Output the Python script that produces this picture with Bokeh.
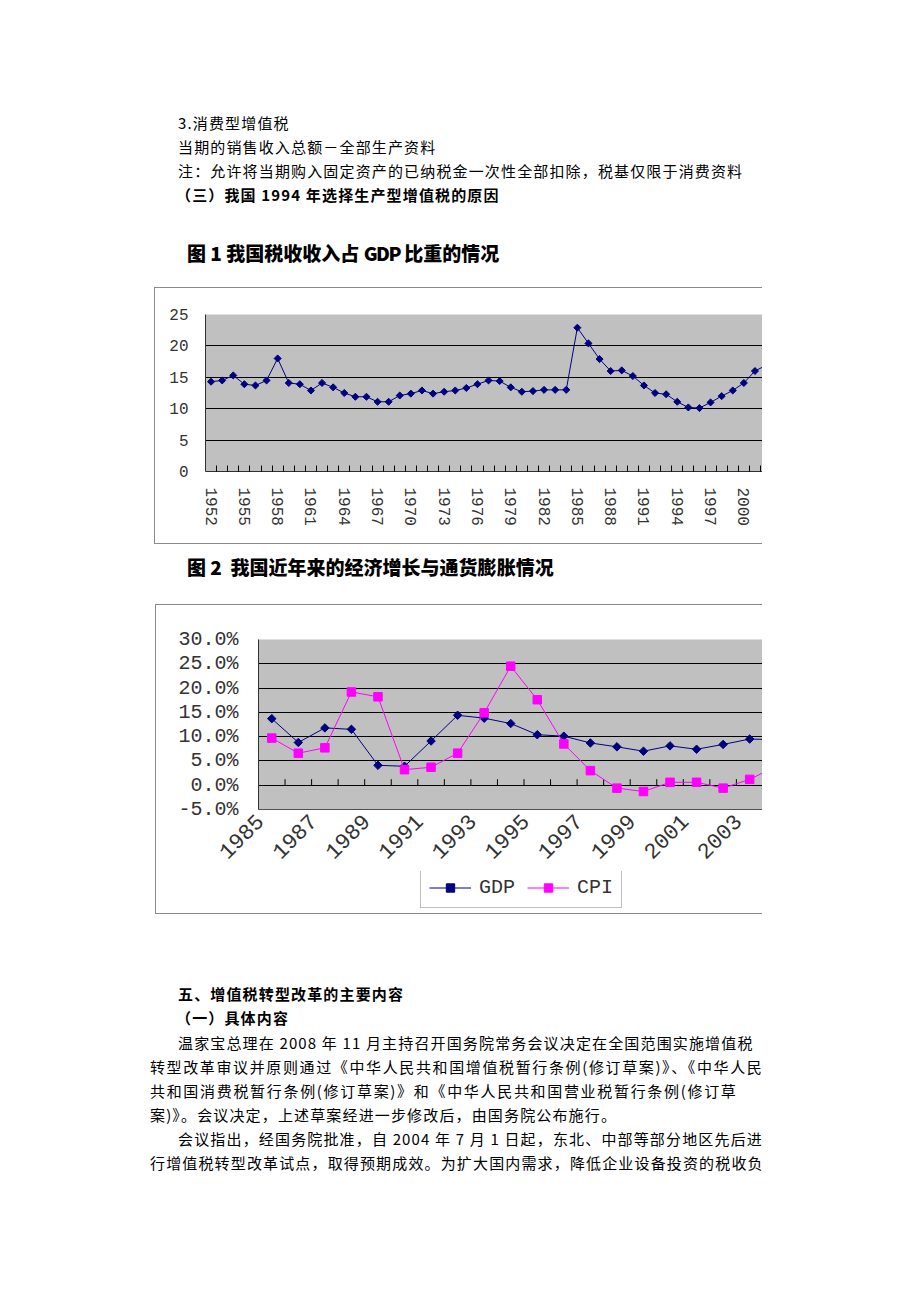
import numpy as np
from bokeh.plotting import figure
from bokeh.layouts import column, row
from bokeh.models import (Div, Spacer, FixedTicker, CustomJSTickFormatter,
                          PrintfTickFormatter, Legend, LegendItem, Range1d)
from bokeh.embed import file_html
from bokeh.resources import INLINE

# ---------------- data ----------------
# Figure 1: tax revenue as % of GDP
years1 = [str(y) for y in range(1952, 2003)]
tax_ratio = [14.3, 14.5, 15.3, 13.9, 13.7, 14.5, 18.0, 14.1, 13.9, 12.9,
             14.1, 13.4, 12.5, 11.9, 11.9, 11.1, 11.1, 12.1, 12.4, 12.9,
             12.4, 12.7, 12.9, 13.3, 13.9, 14.5, 14.4, 13.4, 12.7, 12.8,
             13.0, 13.0, 13.0, 22.9, 20.4, 17.9, 16.0, 16.1, 15.2, 13.7,
             12.5, 12.3, 11.1, 10.2, 10.1, 11.0, 12.0, 12.9, 14.1, 16.0,
             16.9]
y_ticks1 = [0, 5, 10, 15, 20, 25]

# Figure 2: GDP growth and CPI
years2 = [str(y) for y in range(1985, 2005)]
gdp = [13.7, 8.8, 11.8, 11.5, 4.1, 3.9, 9.1, 14.4, 13.8, 12.7,
       10.4, 10.1, 8.7, 7.9, 7.0, 8.1, 7.4, 8.4, 9.5, 9.4]
cpi = [9.7, 6.6, 7.7, 19.2, 18.2, 3.2, 3.7, 6.6, 14.9, 24.5,
       17.6, 8.5, 3.0, -0.6, -1.3, 0.6, 0.6, -0.6, 1.2, 3.9]
y_ticks2 = [-5, 0, 5, 10, 15, 20, 25, 30]
series_names = ["GDP", "CPI"]

NAVY = "#000080"
MAGENTA = "#ff00ff"
PLOT_BG = "#c0c0c0"
TICK_FONT = "Liberation Mono"
LABEL_COLOR = "#333333"
BOX_COLOR = "#8a8a8a"
CJK = "'Noto Sans CJK SC', 'Noto Sans CJK JP', sans-serif"

# ---------------- text helpers ----------------
def tline(x, yc, text, fs=15, bold=False, weight=None, right=None, ls=1.15, lh=None):
    if lh is None:
        lh = 20 if fs <= 15 else 24
    content = 1.448 * fs
    half = (lh - content) / 2.0
    center = half + 1.16 * fs - 0.38 * fs
    top = yc - center
    w = weight if weight else ("700" if bold else "400")
    style = (f"position:absolute;left:{x}px;top:{top:.1f}px;font-family:{CJK};"
             f"font-size:{fs}px;line-height:{lh}px;font-weight:{w};color:#000;"
             f"white-space:nowrap;letter-spacing:{ls}px;")
    if right is not None:
        style += f"width:{right - x}px;text-align:justify;text-align-last:justify;"
    return f'<div style="{style}">{text}</div>'


def text_block(lines, height, offset):
    inner = "".join(tline(x, yc - offset, t, **kw) for (x, yc, t, kw) in lines)
    html = f'<div style="position:relative;width:920px;height:{height}px;overflow:hidden;">{inner}</div>'
    return Div(text=html, width=920, height=height, margin=0)


top_lines = [
    (178, 124, "3.消费型增值税", {}),
    (178, 148, "当期的销售收入总额－全部生产资料", {}),
    (178, 172, "注：允许将当期购入固定资产的已纳税金一次性全部扣除，税基仅限于消费资料", {}),
    (176, 196, "（三）我国 1994 年选择生产型增值税的原因", {"bold": True}),
    (187, 254, '图 1 我国税收收入占 <span style="letter-spacing:-1.5px">GDP</span> 比重的情况',
     {"fs": 19, "weight": "900", "ls": 0}),
]
mid_lines = [
    (187, 568, "图 2&nbsp; 我国近年来的经济增长与通货膨胀情况", {"fs": 19, "weight": "900", "ls": 0}),
]
bottom_lines = [
    (178, 995, "五、增值税转型改革的主要内容", {"bold": True}),
    (176, 1019, "（一）具体内容", {"bold": True}),
    (178, 1044, "温家宝总理在 2008 年 11 月主持召开国务院常务会议决定在全国范围实施增值税", {"right": 747}),
    (150, 1068, "转型改革审议并原则通过《中华人民共和国增值税暂行条例(修订草案)》、《中华人民", {"right": 763}),
    (150, 1092, "共和国消费税暂行条例(修订草案)》和《中华人民共和国营业税暂行条例(修订草", {"right": 737}),
    (150, 1116, "案)》。会议决定，上述草案经进一步修改后，由国务院公布施行。", {}),
    (178, 1140, "会议指出，经国务院批准，自 2004 年 7 月 1 日起，东北、中部等部分地区先后进", {"right": 763}),
    (150, 1164, "行增值税转型改革试点，取得预期成效。为扩大国内需求，降低企业设备投资的税收负", {"right": 763}),
]

div_top = text_block(top_lines, 287, 0)
div_mid = text_block(mid_lines, 60, 544)
div_bottom = text_block(bottom_lines, 1302 - 914, 914)


def hline(w):
    return Div(text="", width=w, height=1, margin=0, styles={"background-color": BOX_COLOR})


def vline(h):
    return Div(text="", width=1, height=h, margin=0, styles={"background-color": BOX_COLOR})


def style_axis(ax, size):
    ax.major_label_text_font = TICK_FONT
    ax.major_label_text_font_size = size
    ax.major_label_text_color = LABEL_COLOR
    ax.major_tick_in = 0
    ax.major_tick_out = 0
    ax.minor_tick_in = 0
    ax.minor_tick_out = 0
    ax.axis_line_color = "#303030"


# ---------------- Figure 1 ----------------
W1, H1 = 607, 255
ML1, MT1, MB1 = 50, 26, 72
step1 = 11.1
x1 = list(range(len(years1)))
p1 = figure(width=W1, height=H1, output_backend="svg", toolbar_location=None,
            x_range=Range1d(-0.5, -0.5 + (W1 - ML1) / step1), y_range=Range1d(0, 25),
            min_border_left=ML1, min_border_right=0, min_border_top=MT1,
            min_border_bottom=MB1, background_fill_color=PLOT_BG,
            border_fill_color="white", outline_line_color=None, margin=0)
ax = p1.xaxis[0]
style_axis(ax, "16px")
ax.ticker = FixedTicker(ticks=[i for i in x1 if i % 3 == 0],
                        minor_ticks=[i + 0.5 for i in x1])
ax.formatter = CustomJSTickFormatter(args=dict(labels=years1),
                                     code="return labels[Math.round(tick)];")
ax.major_label_orientation = "vertical"
ax.minor_tick_in = 6
ax.minor_tick_line_color = "black"
ax.major_label_standoff = 16
ay = p1.yaxis[0]
style_axis(ay, "16px")
ay.ticker = FixedTicker(ticks=y_ticks1)
ay.major_label_standoff = 17
p1.xgrid.visible = False
p1.ygrid.ticker = FixedTicker(ticks=y_ticks1)
p1.ygrid.grid_line_color = "black"
p1.line(x1, tax_ratio, line_color=NAVY, line_width=1)
p1.scatter(x1, tax_ratio, marker="square", angle=np.pi / 4, size=5,
           fill_color=NAVY, line_color=NAVY)

chart1 = row(Spacer(width=154, height=H1 + 2, margin=0), vline(H1 + 2),
             column(hline(W1), p1, hline(W1), margin=0), margin=0)

# ---------------- Figure 2 ----------------
W2, H2 = 606, 266
ML2, MT2 = 102, 34
FRAME_H2 = 170
MB2 = H2 - MT2 - FRAME_H2
step2 = 26.55
x2 = list(range(len(years2)))
p2 = figure(width=W2, height=H2, output_backend="svg", toolbar_location=None,
            x_range=Range1d(-0.5, -0.5 + (W2 - ML2) / step2), y_range=Range1d(-5, 30),
            min_border_left=ML2, min_border_right=0, min_border_top=MT2,
            min_border_bottom=MB2, background_fill_color=PLOT_BG,
            border_fill_color="white", outline_line_color=None, margin=0)
bx = p2.xaxis[0]
style_axis(bx, "22px")
bx.ticker = FixedTicker(ticks=[i - 0.45 for i in x2 if i % 2 == 0])
bx.formatter = CustomJSTickFormatter(args=dict(labels=years2),
                                     code="return labels[Math.round(tick + 0.45)];")
bx.major_label_orientation = np.pi / 4
bx.major_label_standoff = 8
bx.axis_line_color = "#505050"
by = p2.yaxis[0]
style_axis(by, "20px")
by.ticker = FixedTicker(ticks=y_ticks2)
by.formatter = PrintfTickFormatter(format="%.1f%%")
by.major_label_standoff = 20
p2.xgrid.visible = False
p2.ygrid.ticker = FixedTicker(ticks=y_ticks2)
p2.ygrid.grid_line_color = "black"

# category tick marks on the 0% axis (boundaries between years)
bounds = [i + 0.5 for i in x2]
p2.segment(x0=bounds, y0=[0] * len(bounds), x1=bounds, y1=[1.25] * len(bounds),
           line_color="black", line_width=1)

p2.line(x2, gdp, line_color=NAVY, line_width=1)
p2.scatter(x2, gdp, marker="square", angle=np.pi / 4, size=6,
           fill_color=NAVY, line_color=NAVY)
p2.line(x2, cpi, line_color=MAGENTA, line_width=1)
p2.scatter(x2, cpi, marker="square", size=8.5,
           fill_color=MAGENTA, line_color=MAGENTA)

# legend strip (same chart box, below the axis labels); its frame is aligned
# with the chart frame above by the column layout
H3 = 308 - H2
p3 = figure(width=W2, height=H3, output_backend="svg", toolbar_location=None,
            x_range=Range1d(0, 1), y_range=Range1d(0, 1),
            x_axis_type=None, y_axis_type=None, min_border=0,
            background_fill_color="white", border_fill_color="white",
            outline_line_color=None, margin=0)
p3.xgrid.visible = False
p3.ygrid.visible = False
off = [-10, -9]   # keys drawn only in the legend, outside the visible range
lg_g_line = p3.line(off, off, line_color=NAVY, line_width=1)
lg_g_pts = p3.scatter(off, off, marker="square", angle=np.pi / 4, size=6,
                      fill_color=NAVY, line_color=NAVY)
lg_c_line = p3.line(off, off, line_color=MAGENTA, line_width=1)
lg_c_pts = p3.scatter(off, off, marker="square", size=8.5,
                      fill_color=MAGENTA, line_color=MAGENTA)
legend = Legend(items=[LegendItem(label=series_names[0], renderers=[lg_g_line, lg_g_pts]),
                       LegendItem(label=series_names[1], renderers=[lg_c_line, lg_c_pts])],
                orientation="horizontal", location=(162, 5),
                label_text_font=TICK_FONT, label_text_font_size="20px",
                label_text_color=LABEL_COLOR, glyph_width=42, glyph_height=21,
                label_height=21, label_standoff=8, spacing=12, padding=8,
                margin=0, border_line_color="#808080", border_line_width=1,
                background_fill_color="white", background_fill_alpha=1.0)
p3.add_layout(legend)

chart2 = row(Spacer(width=155, height=310, margin=0), vline(310),
             column(hline(W2), p2, p3, hline(W2), margin=0), margin=0)

page = column(div_top, chart1, div_mid, chart2, div_bottom, margin=0, spacing=0)

open("out.html", "w").write(file_html(page, INLINE))
